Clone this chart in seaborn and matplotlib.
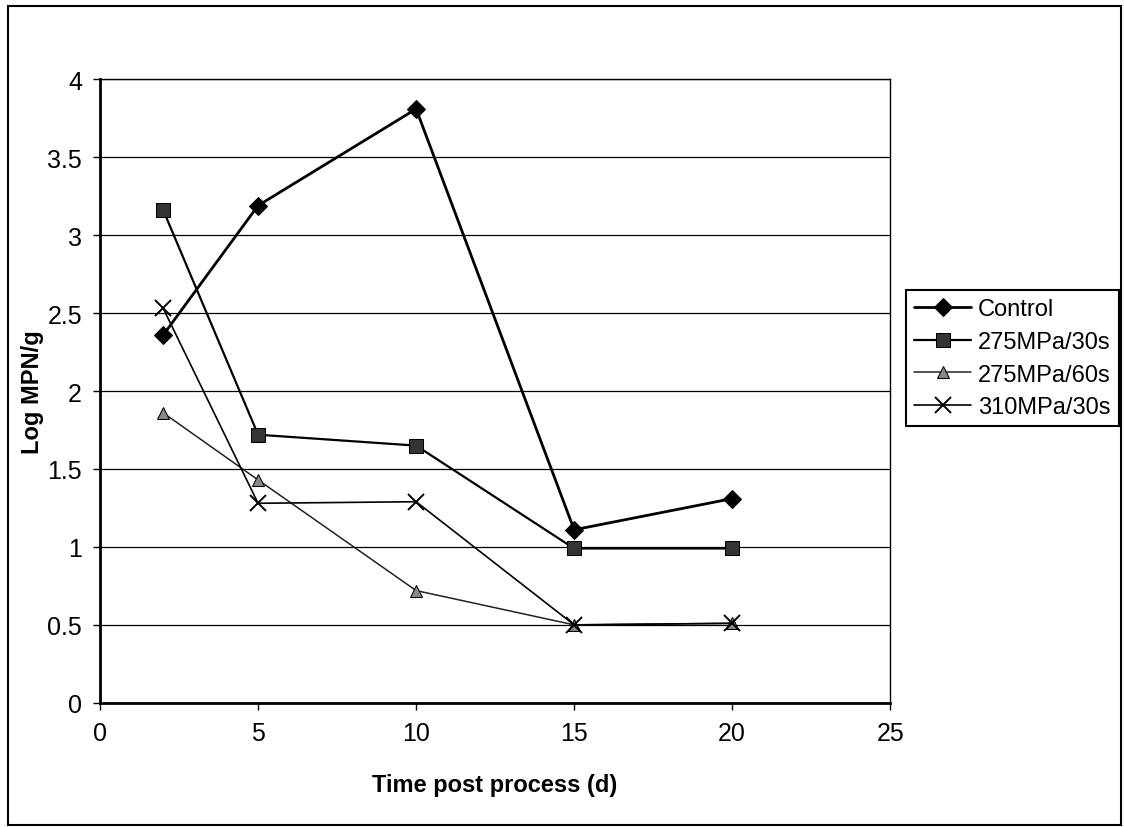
import matplotlib
matplotlib.use("Agg")
import matplotlib.pyplot as plt
import seaborn as sns
import pandas as pd
from matplotlib.patches import Rectangle

days = [2, 5, 10, 15, 20]
control = [2.36, 3.19, 3.81, 1.11, 1.31]
mpa275_30 = [3.16, 1.72, 1.65, 0.99, 0.99]
mpa275_60 = [1.86, 1.43, 0.72, 0.50, 0.51]
mpa310_30 = [2.53, 1.28, 1.29, 0.50, 0.51]
series_names = ["Control", "275MPa/30s", "275MPa/60s", "310MPa/30s"]
x_ticks = [0, 5, 10, 15, 20, 25]
y_ticks = [0, 0.5, 1, 1.5, 2, 2.5, 3, 3.5, 4]

sns.set_style("white")
plt.rcParams['font.family'] = ['Liberation Sans', 'DejaVu Sans']
plt.rcParams['text.color'] = 'black'
plt.rcParams['axes.labelcolor'] = 'black'
plt.rcParams['xtick.color'] = 'black'
plt.rcParams['ytick.color'] = 'black'

fig = plt.figure(figsize=(11.24, 8.28), dpi=100)
ax = fig.add_axes([0.089, 0.150, 0.703, 0.753])

styles = {
    "Control": dict(marker="D", markersize=9, color="black", lw=2.0,
                    markerfacecolor="black", markeredgecolor="black"),
    "275MPa/30s": dict(marker="s", markersize=10, color="black", lw=1.6,
                       markerfacecolor="#333333", markeredgecolor="black"),
    "275MPa/60s": dict(marker="^", markersize=9, color="#222222", lw=1.1,
                       markerfacecolor="#888888", markeredgecolor="black"),
    "310MPa/30s": dict(marker="x", markersize=11, color="black", lw=1.2,
                       markeredgewidth=1.4, markeredgecolor="black"),
}
values = [control, mpa275_30, mpa275_60, mpa310_30]
for name, vals in zip(series_names, values):
    df = pd.DataFrame({"day": days, "val": vals})
    st = dict(styles[name])
    color = st.pop("color")
    lw = st.pop("lw")
    sns.lineplot(data=df, x="day", y="val", ax=ax, color=color, linewidth=lw,
                 label=name, **st)

ax.set_xlim(0, 25)
ax.set_ylim(0, 4)
ax.set_xticks(x_ticks)
ax.set_yticks(y_ticks)
ax.set_xticklabels([str(t) for t in x_ticks])
ax.set_yticklabels([("%g" % t) for t in y_ticks])
ax.yaxis.grid(True, color="black", linewidth=0.9)
ax.xaxis.grid(False)
for s in ax.spines.values():
    s.set_color("black")
    s.set_linewidth(1.0)
ax.spines["left"].set_linewidth(2.0)
ax.spines["bottom"].set_linewidth(2.0)
ax.tick_params(axis="both", which="both", direction="out", length=5, width=1,
               color="black", labelcolor="black", labelsize=18, pad=8,
               bottom=True, left=True)
ax.set_xlabel("Time post process (d)", fontsize=17, fontweight="bold", labelpad=20)
ax.set_ylabel("Log MPN/g", fontsize=17, fontweight="bold", labelpad=2)

leg = ax.legend(loc="upper left", bbox_to_anchor=(1.02, 0.662), fontsize=17,
                frameon=True, fancybox=False, edgecolor="black", framealpha=1,
                borderpad=0.35, labelspacing=0.45, handlelength=2.4, handletextpad=0.3,
                borderaxespad=0)
leg.get_frame().set_linewidth(1.5)

fig.patches.append(Rectangle((0.007, 0.003), 0.990, 0.988, transform=fig.transFigure,
                             fill=False, edgecolor="black", linewidth=1.5))

fig.savefig("out.png", dpi=100)
